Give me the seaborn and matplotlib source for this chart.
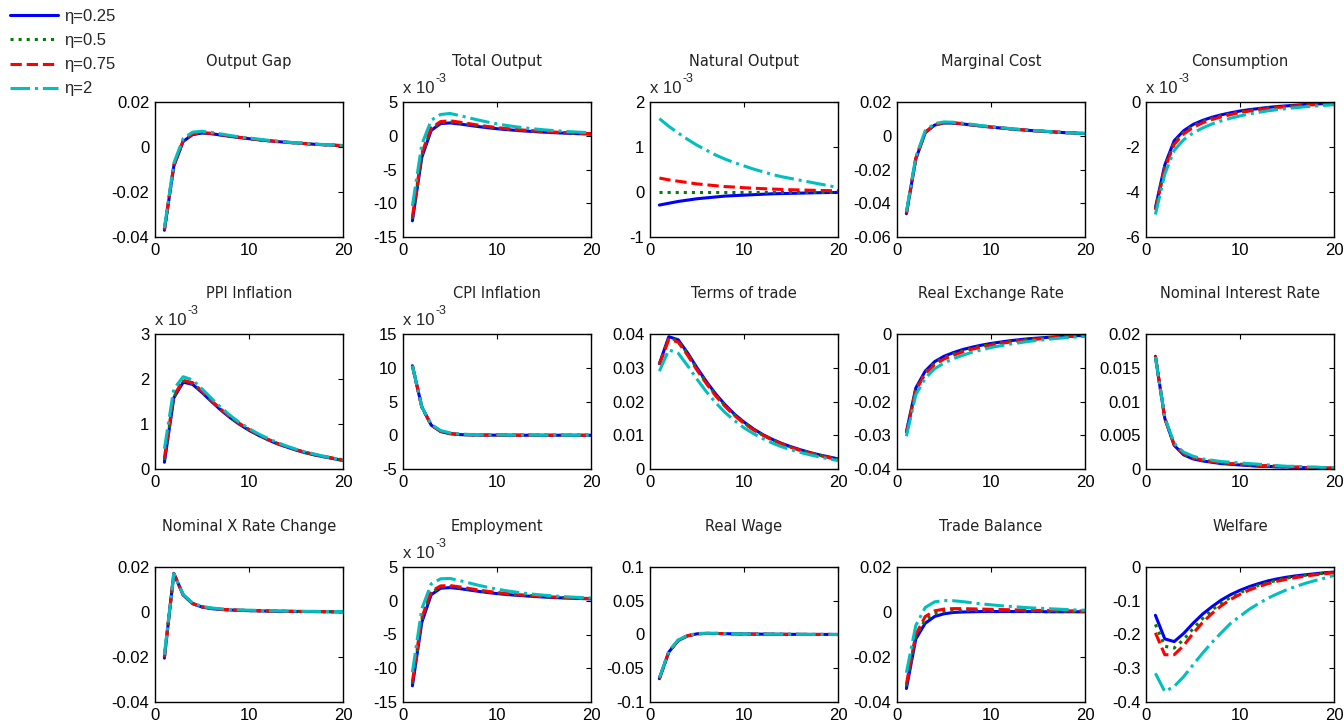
import numpy as np
import pandas as pd
import matplotlib
matplotlib.use("Agg")
import matplotlib.pyplot as plt
from matplotlib.ticker import FuncFormatter
from matplotlib.lines import Line2D
import seaborn as sns

# ---------------- data ----------------
periods = list(range(1, 21))
series_labels = ["\u03b7=0.25", "\u03b7=0.5", "\u03b7=0.75", "\u03b7=2"]

# Output Gap
og_b = [-0.0370,-0.0085,0.0025,0.0055,0.0062,0.0059,0.0053,0.0047,0.0042,0.0037,0.0032,0.0028,0.0024,0.0021,0.0018,0.0015,0.0012,0.0010,0.0008,0.0006]
og_g = [-0.0368,-0.0083,0.0027,0.0057,0.0063,0.0060,0.0054,0.0048,0.0042,0.0037,0.0032,0.0028,0.0024,0.0021,0.0018,0.0015,0.0012,0.0010,0.0008,0.0006]
og_r = [-0.0366,-0.0081,0.0029,0.0058,0.0064,0.0061,0.0055,0.0049,0.0043,0.0038,0.0033,0.0029,0.0025,0.0021,0.0018,0.0015,0.0012,0.0010,0.0008,0.0006]
og_c = [-0.0360,-0.0072,0.0038,0.0066,0.0070,0.0065,0.0058,0.0051,0.0045,0.0040,0.0035,0.0030,0.0026,0.0022,0.0019,0.0016,0.0013,0.0011,0.0009,0.0007]

# Total Output (x 1e-3)
to_b = [-12.6,-3.2,0.8,1.80,1.90,1.75,1.55,1.36,1.19,1.04,0.91,0.80,0.70,0.61,0.53,0.46,0.40,0.34,0.29,0.24]
to_g = [-12.3,-2.9,1.0,1.95,2.05,1.88,1.67,1.46,1.28,1.12,0.98,0.86,0.75,0.66,0.58,0.50,0.44,0.38,0.33,0.28]
to_r = [-12.0,-2.6,1.2,2.10,2.22,2.02,1.80,1.58,1.38,1.21,1.06,0.93,0.82,0.72,0.63,0.55,0.48,0.42,0.37,0.32]
to_c = [-10.4,-1.3,2.3,3.15,3.30,3.00,2.66,2.33,2.03,1.76,1.53,1.33,1.16,1.01,0.88,0.77,0.67,0.58,0.51,0.45]

# Natural Output (x 1e-3)
no_b = [-0.29,-0.25,-0.21,-0.18,-0.15,-0.13,-0.11,-0.09,-0.08,-0.07,-0.06,-0.05,-0.04,-0.035,-0.03,-0.025,-0.02,-0.015,-0.012,-0.01]
no_g = [0.0,0.0,0.0,0.0,0.0,0.0,0.0,0.0,0.0,0.0,0.0,0.0,0.0,0.0,0.0,0.0,0.0,0.0,0.0,0.0]
no_r = [0.31,0.27,0.24,0.21,0.18,0.16,0.14,0.12,0.11,0.095,0.085,0.075,0.065,0.058,0.05,0.045,0.04,0.035,0.03,0.025]
no_c = [1.63,1.46,1.31,1.17,1.04,0.93,0.82,0.73,0.65,0.58,0.51,0.45,0.39,0.34,0.30,0.26,0.22,0.18,0.14,0.10]

# Marginal Cost
mc_b = [-0.0462,-0.0138,0.0018,0.0063,0.0076,0.0075,0.0070,0.0063,0.0057,0.0051,0.0046,0.0041,0.0036,0.0032,0.0028,0.0025,0.0021,0.0018,0.0016,0.0013]
mc_g = [-0.0460,-0.0136,0.0020,0.0065,0.0077,0.0076,0.0071,0.0064,0.0058,0.0052,0.0046,0.0041,0.0036,0.0032,0.0028,0.0025,0.0021,0.0018,0.0016,0.0013]
mc_r = [-0.0458,-0.0134,0.0022,0.0066,0.0078,0.0077,0.0072,0.0065,0.0058,0.0052,0.0047,0.0042,0.0037,0.0033,0.0029,0.0025,0.0022,0.0019,0.0016,0.0013]
mc_c = [-0.0450,-0.0126,0.0030,0.0072,0.0082,0.0080,0.0074,0.0067,0.0060,0.0054,0.0048,0.0043,0.0038,0.0034,0.0030,0.0026,0.0022,0.0019,0.0016,0.0014]

# Consumption (x 1e-3)
c_b = [-4.70,-2.80,-1.72,-1.28,-1.00,-0.82,-0.68,-0.57,-0.48,-0.40,-0.34,-0.29,-0.24,-0.20,-0.17,-0.14,-0.11,-0.09,-0.07,-0.05]
c_g = [-4.75,-2.88,-1.80,-1.35,-1.06,-0.87,-0.73,-0.61,-0.52,-0.44,-0.37,-0.31,-0.26,-0.22,-0.19,-0.16,-0.13,-0.10,-0.08,-0.06]
c_r = [-4.80,-2.95,-1.88,-1.42,-1.13,-0.93,-0.78,-0.66,-0.56,-0.47,-0.40,-0.34,-0.29,-0.24,-0.21,-0.17,-0.14,-0.12,-0.10,-0.08]
c_c = [-5.00,-3.20,-2.15,-1.68,-1.38,-1.16,-0.98,-0.84,-0.72,-0.62,-0.53,-0.46,-0.39,-0.34,-0.29,-0.25,-0.21,-0.18,-0.15,-0.12]

# PPI Inflation (x 1e-3)
ppi_b = [0.15,1.58,1.93,1.88,1.70,1.50,1.31,1.14,0.99,0.86,0.75,0.65,0.56,0.49,0.42,0.36,0.31,0.27,0.23,0.19]
ppi_g = [0.20,1.60,1.95,1.90,1.72,1.51,1.32,1.15,1.00,0.87,0.76,0.66,0.57,0.49,0.43,0.37,0.32,0.27,0.23,0.19]
ppi_r = [0.25,1.63,1.97,1.92,1.73,1.52,1.33,1.16,1.01,0.88,0.76,0.66,0.57,0.50,0.43,0.37,0.32,0.28,0.24,0.20]
ppi_c = [0.45,1.78,2.05,1.98,1.78,1.57,1.37,1.19,1.03,0.90,0.78,0.68,0.59,0.51,0.44,0.38,0.33,0.28,0.24,0.20]

# CPI Inflation (x 1e-3)
cpi_b = [10.3,4.2,1.5,0.55,0.22,0.10,0.05,0.03,0.02,0.01,0.01,0.01,0.0,0.0,0.0,0.0,0.0,0.0,0.0,0.0]
cpi_g = [10.3,4.2,1.5,0.58,0.25,0.12,0.07,0.04,0.03,0.02,0.02,0.01,0.01,0.01,0.01,0.0,0.0,0.0,0.0,0.0]
cpi_r = [10.3,4.2,1.5,0.60,0.27,0.14,0.08,0.05,0.04,0.03,0.02,0.02,0.01,0.01,0.01,0.01,0.0,0.0,0.0,0.0]
cpi_c = [10.3,4.2,1.6,0.70,0.35,0.20,0.12,0.08,0.06,0.05,0.04,0.03,0.03,0.02,0.02,0.02,0.01,0.01,0.01,0.01]

# Terms of trade
tot_b = [0.0312,0.0392,0.0383,0.0344,0.0300,0.0259,0.0222,0.0190,0.0162,0.0139,0.0119,0.0102,0.0088,0.0076,0.0066,0.0057,0.0049,0.0042,0.0036,0.0030]
tot_g = [0.0311,0.0389,0.0380,0.0341,0.0297,0.0256,0.0219,0.0187,0.0160,0.0137,0.0117,0.0101,0.0087,0.0075,0.0065,0.0056,0.0048,0.0041,0.0035,0.0029]
tot_r = [0.0309,0.0384,0.0376,0.0337,0.0293,0.0253,0.0216,0.0185,0.0158,0.0135,0.0116,0.0100,0.0086,0.0074,0.0064,0.0055,0.0047,0.0040,0.0034,0.0028]
tot_c = [0.0290,0.0353,0.0343,0.0306,0.0266,0.0229,0.0196,0.0167,0.0143,0.0122,0.0105,0.0090,0.0077,0.0066,0.0057,0.0049,0.0042,0.0036,0.0030,0.0025]

# Real Exchange Rate
rer_b = [-0.0290,-0.0160,-0.0110,-0.0082,-0.0066,-0.0055,-0.0046,-0.0039,-0.0033,-0.0028,-0.0024,-0.0020,-0.0017,-0.0014,-0.0012,-0.0010,-0.0008,-0.0006,-0.0005,-0.0004]
rer_g = [-0.0292,-0.0163,-0.0114,-0.0086,-0.0070,-0.0059,-0.0050,-0.0042,-0.0036,-0.0031,-0.0026,-0.0022,-0.0019,-0.0016,-0.0013,-0.0011,-0.0009,-0.0007,-0.0006,-0.0005]
rer_r = [-0.0294,-0.0167,-0.0118,-0.0091,-0.0074,-0.0063,-0.0053,-0.0045,-0.0039,-0.0033,-0.0028,-0.0024,-0.0021,-0.0018,-0.0015,-0.0012,-0.0010,-0.0008,-0.0007,-0.0005]
rer_c = [-0.0303,-0.0180,-0.0131,-0.0103,-0.0086,-0.0073,-0.0063,-0.0054,-0.0047,-0.0040,-0.0035,-0.0030,-0.0026,-0.0022,-0.0019,-0.0016,-0.0013,-0.0011,-0.0009,-0.0007]

# Nominal Interest Rate
nir_b = [0.0167,0.0075,0.0035,0.0021,0.0015,0.0012,0.0010,0.0008,0.0007,0.0006,0.0005,0.0004,0.0004,0.0003,0.0003,0.0002,0.0002,0.0002,0.0001,0.0001]
nir_g = [0.0167,0.0075,0.0036,0.0022,0.0016,0.0013,0.0011,0.0009,0.0008,0.0007,0.0006,0.0005,0.0004,0.0004,0.0003,0.0003,0.0002,0.0002,0.0002,0.0001]
nir_r = [0.0167,0.0075,0.0036,0.0023,0.0017,0.0013,0.0011,0.0010,0.0008,0.0007,0.0006,0.0005,0.0005,0.0004,0.0003,0.0003,0.0002,0.0002,0.0002,0.0001]
nir_c = [0.0166,0.0076,0.0038,0.0025,0.0019,0.0015,0.0013,0.0011,0.0010,0.0009,0.0008,0.0007,0.0006,0.0005,0.0004,0.0004,0.0003,0.0003,0.0002,0.0002]

# Nominal X Rate Change
nxr_b = [-0.0205,0.0172,0.0075,0.0037,0.0022,0.0015,0.0011,0.0009,0.0007,0.0006,0.0005,0.0004,0.0003,0.0003,0.0002,0.0002,0.0002,0.0001,0.0001,0.0001]
nxr_g = [-0.0202,0.0171,0.0076,0.0038,0.0023,0.0016,0.0012,0.0009,0.0008,0.0006,0.0005,0.0004,0.0004,0.0003,0.0003,0.0002,0.0002,0.0002,0.0001,0.0001]
nxr_r = [-0.0199,0.0171,0.0076,0.0038,0.0023,0.0016,0.0012,0.0010,0.0008,0.0007,0.0006,0.0005,0.0004,0.0003,0.0003,0.0002,0.0002,0.0002,0.0001,0.0001]
nxr_c = [-0.0190,0.0170,0.0078,0.0040,0.0025,0.0018,0.0014,0.0011,0.0009,0.0008,0.0007,0.0006,0.0005,0.0004,0.0004,0.0003,0.0003,0.0002,0.0002,0.0002]

# Employment (x 1e-3)
emp_b = [-12.6,-3.2,0.9,1.85,1.95,1.80,1.60,1.40,1.22,1.06,0.93,0.82,0.72,0.63,0.55,0.48,0.42,0.37,0.32,0.28]
emp_g = [-12.3,-2.8,1.2,2.05,2.10,1.93,1.71,1.50,1.31,1.14,1.00,0.88,0.77,0.68,0.59,0.52,0.45,0.40,0.35,0.30]
emp_r = [-12.0,-2.5,1.4,2.20,2.25,2.06,1.83,1.60,1.40,1.22,1.07,0.94,0.82,0.72,0.63,0.55,0.48,0.42,0.37,0.32]
emp_c = [-10.6,-1.2,2.5,3.25,3.30,3.00,2.65,2.30,2.00,1.72,1.48,1.28,1.10,0.95,0.82,0.71,0.62,0.54,0.47,0.41]

# Real Wage
rw_b = [-0.0655,-0.0260,-0.0090,-0.0020,0.0010,0.0015,0.0015,0.0012,0.0010,0.0008,0.0006,0.0005,0.0004,0.0003,0.0002,0.0002,0.0001,0.0001,0.0001,0.0000]
rw_g = [-0.0652,-0.0258,-0.0088,-0.0019,0.0011,0.0016,0.0015,0.0012,0.0010,0.0008,0.0006,0.0005,0.0004,0.0003,0.0002,0.0002,0.0001,0.0001,0.0001,0.0000]
rw_r = [-0.0650,-0.0256,-0.0087,-0.0018,0.0012,0.0016,0.0016,0.0013,0.0010,0.0008,0.0006,0.0005,0.0004,0.0003,0.0002,0.0002,0.0001,0.0001,0.0001,0.0000]
rw_c = [-0.0640,-0.0248,-0.0080,-0.0013,0.0015,0.0019,0.0018,0.0015,0.0012,0.0009,0.0007,0.0006,0.0005,0.0004,0.0003,0.0002,0.0002,0.0001,0.0001,0.0001]

# Trade Balance
tb_b = [-0.0340,-0.0120,-0.0050,-0.0020,-0.0008,-0.0002,0.0000,0.0001,0.0002,0.0002,0.0002,0.0002,0.0002,0.0002,0.0002,0.0001,0.0001,0.0001,0.0001,0.0001]
tb_g = [-0.0330,-0.0110,-0.0035,-0.0008,0.0003,0.0006,0.0007,0.0007,0.0007,0.0006,0.0006,0.0005,0.0005,0.0004,0.0004,0.0003,0.0003,0.0003,0.0002,0.0002]
tb_r = [-0.0320,-0.0100,-0.0020,0.0005,0.0013,0.0015,0.0015,0.0014,0.0013,0.0012,0.0011,0.0010,0.0009,0.0008,0.0007,0.0007,0.0006,0.0005,0.0005,0.0004]
tb_c = [-0.0270,-0.0060,0.0020,0.0045,0.0051,0.0050,0.0046,0.0041,0.0036,0.0032,0.0028,0.0025,0.0022,0.0019,0.0017,0.0015,0.0013,0.0011,0.0009,0.0008]

# Welfare
w_b = [-0.143,-0.213,-0.221,-0.197,-0.167,-0.140,-0.118,-0.098,-0.082,-0.069,-0.058,-0.049,-0.041,-0.035,-0.030,-0.026,-0.023,-0.020,-0.017,-0.015]
w_g = [-0.170,-0.235,-0.240,-0.215,-0.183,-0.153,-0.128,-0.107,-0.090,-0.076,-0.064,-0.054,-0.046,-0.039,-0.033,-0.028,-0.024,-0.021,-0.018,-0.016]
w_r = [-0.195,-0.260,-0.260,-0.233,-0.197,-0.165,-0.138,-0.115,-0.096,-0.081,-0.068,-0.058,-0.049,-0.042,-0.036,-0.031,-0.027,-0.023,-0.020,-0.017]
w_c = [-0.315,-0.369,-0.354,-0.325,-0.290,-0.256,-0.224,-0.195,-0.167,-0.146,-0.125,-0.108,-0.092,-0.079,-0.067,-0.057,-0.048,-0.040,-0.033,-0.025]

titles = ["Output Gap", "Total Output", "Natural Output", "Marginal Cost", "Consumption",
          "PPI Inflation", "CPI Inflation", "Terms of trade", "Real Exchange Rate", "Nominal Interest Rate",
          "Nominal X Rate Change", "Employment", "Real Wage", "Trade Balance", "Welfare"]
panel_series = [
    (og_b, og_g, og_r, og_c), (to_b, to_g, to_r, to_c), (no_b, no_g, no_r, no_c),
    (mc_b, mc_g, mc_r, mc_c), (c_b, c_g, c_r, c_c),
    (ppi_b, ppi_g, ppi_r, ppi_c), (cpi_b, cpi_g, cpi_r, cpi_c), (tot_b, tot_g, tot_r, tot_c),
    (rer_b, rer_g, rer_r, rer_c), (nir_b, nir_g, nir_r, nir_c),
    (nxr_b, nxr_g, nxr_r, nxr_c), (emp_b, emp_g, emp_r, emp_c), (rw_b, rw_g, rw_r, rw_c),
    (tb_b, tb_g, tb_r, tb_c), (w_b, w_g, w_r, w_c),
]
yticks = [
    [-0.04, -0.02, 0, 0.02], [-15, -10, -5, 0, 5], [-1, 0, 1, 2], [-0.06, -0.04, -0.02, 0, 0.02], [-6, -4, -2, 0],
    [0, 1, 2, 3], [-5, 0, 5, 10, 15], [0, 0.01, 0.02, 0.03, 0.04], [-0.04, -0.03, -0.02, -0.01, 0], [0, 0.005, 0.01, 0.015, 0.02],
    [-0.04, -0.02, 0, 0.02], [-15, -10, -5, 0, 5], [-0.1, -0.05, 0, 0.05, 0.1], [-0.04, -0.02, 0, 0.02], [-0.4, -0.3, -0.2, -0.1, 0],
]
scaled = [False, True, True, False, True,
          True, True, False, False, False,
          False, True, False, False, False]

# ---------------- style ----------------
sns.set_style("white")
plt.rcParams["font.family"] = ["Liberation Sans", "DejaVu Sans"]

colors = ["#0000ff", "#007f00", "#ff0000", "#00bfbf"]
styles = ["-", ":", "--", "-."]
LW = 2.2

W, H = 1344, 725
fig = plt.figure(figsize=(W / 100, H / 100), dpi=100)

col_left = [155, 403, 650, 897, 1146]
row_top = [102, 334, 567]
aw, ah = 188, 135

fmt = FuncFormatter(lambda v, p: "%g" % v)

for i, title in enumerate(titles):
    r, c = divmod(i, 5)
    ax = fig.add_axes([col_left[c] / W, 1 - (row_top[r] + ah) / H, aw / W, ah / H])
    for s, ys in enumerate(panel_series[i]):
        sns.lineplot(x=periods, y=ys, ax=ax, color=colors[s], linestyle=styles[s],
                     linewidth=LW, legend=False)
    ax.set_xlim(0, 20)
    ax.set_ylim(yticks[i][0], yticks[i][-1])
    ax.set_xticks([0, 10, 20])
    ax.set_yticks(yticks[i])
    ax.yaxis.set_major_formatter(fmt)
    ax.tick_params(direction="in", length=3.5, width=0.8, top=True, right=True,
                   labelsize=12, pad=4, colors="black")
    for sp in ax.spines.values():
        sp.set_visible(True)
        sp.set_color("black")
        sp.set_linewidth(1.0)
    ax.set_xlabel("")
    ax.set_ylabel("")
    ax.set_title(title, fontsize=10.5, family=["DejaVu Sans"], color="#222222", y=1.0, pad=26)
    if scaled[i]:
        t = ax.text(0.0, 1.045, "x 10", transform=ax.transAxes,
                    fontsize=12, ha="left", va="bottom")
        ax.annotate("-3", xy=(1.0, 1.0), xycoords=t, xytext=(1.0, -3.0),
                    textcoords="offset points", fontsize=9, ha="left", va="bottom")

handles = [Line2D([], [], color=colors[s], linestyle=styles[s], linewidth=LW) for s in range(4)]
fig.legend(handles, series_labels, loc="upper left", bbox_to_anchor=(10 / W, 1 - 9 / H),
           frameon=False, fontsize=12, handlelength=2.9, handletextpad=0.35,
           labelspacing=0.55, borderpad=0.0, borderaxespad=0.0)

fig.savefig("out.png", dpi=100)
